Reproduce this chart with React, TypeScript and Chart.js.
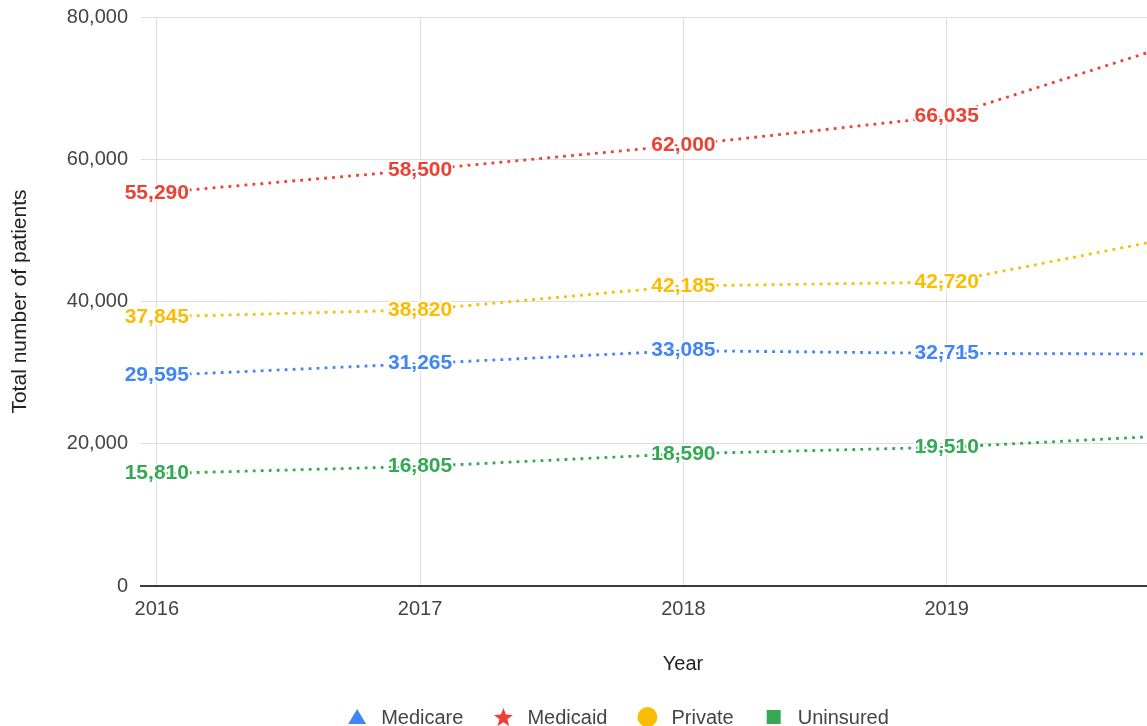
import React, { useEffect, useRef } from 'react';
import { Chart, registerables } from 'chart.js';

Chart.register(...registerables);

// ---- data ----
const years = [2016, 2017, 2018, 2019, 2020];
const seriesNames = ['Medicare', 'Medicaid', 'Private', 'Uninsured'];
const medicare = [29595, 31265, 33085, 32715, 32600];
const medicaid = [55290, 58500, 62000, 66035, 77780];
const privateIns = [37845, 38820, 42185, 42720, 49980];
const uninsured = [15810, 16805, 18590, 19510, 21420];
const yTicks = [0, 20000, 40000, 60000, 80000];

const seriesValues = [medicare, medicaid, privateIns, uninsured];
const seriesColors = ['#4285F4', '#EA4335', '#FBBC04', '#34A853'];
const seriesShapes = ['triangle', 'star', 'circle', 'square'];

const FONT = '"Liberation Sans", Arial, Helvetica, sans-serif';

function drawShape(ctx: CanvasRenderingContext2D, shape: string, cx: number, cy: number, color: string) {
  ctx.save();
  ctx.fillStyle = color;
  ctx.beginPath();
  if (shape === 'triangle') {
    ctx.moveTo(cx, cy - 8);
    ctx.lineTo(cx + 9, cy + 7);
    ctx.lineTo(cx - 9, cy + 7);
    ctx.closePath();
  } else if (shape === 'star') {
    const outer = 10;
    const inner = 4.2;
    for (let i = 0; i < 10; i++) {
      const r = i % 2 === 0 ? outer : inner;
      const a = -Math.PI / 2 + (i * Math.PI) / 5;
      const px = cx + r * Math.cos(a);
      const py = cy + 1 + r * Math.sin(a);
      if (i === 0) ctx.moveTo(px, py);
      else ctx.lineTo(px, py);
    }
    ctx.closePath();
  } else if (shape === 'circle') {
    ctx.arc(cx, cy, 10, 0, Math.PI * 2);
  } else {
    ctx.rect(cx - 7, cy - 7, 14, 14);
  }
  ctx.fill();
  ctx.restore();
}

const pointLabelPlugin = {
  id: 'pointLabels',
  afterDatasetsDraw(chart: any) {
    const ctx: CanvasRenderingContext2D = chart.ctx;
    ctx.save();
    ctx.font = `bold 21px ${FONT}`;
    ctx.textAlign = 'center';
    ctx.textBaseline = 'middle';
    ctx.lineJoin = 'round';
    chart.data.datasets.forEach((ds: any, i: number) => {
      const meta = chart.getDatasetMeta(i);
      meta.data.forEach((pt: any, j: number) => {
        const text = seriesValues[i][j].toLocaleString('en-US');
        ctx.strokeStyle = 'rgba(255,255,255,0.9)';
        ctx.lineWidth = 4;
        ctx.strokeText(text, pt.x, pt.y);
        ctx.fillStyle = ds.borderColor;
        ctx.fillText(text, pt.x, pt.y);
      });
    });
    ctx.restore();
  },
};

const legendPlugin = {
  id: 'customLegend',
  afterDraw(chart: any) {
    const ctx: CanvasRenderingContext2D = chart.ctx;
    ctx.save();
    ctx.font = `20px ${FONT}`;
    ctx.textBaseline = 'middle';
    ctx.textAlign = 'left';
    const symbolW = 20;
    const symbolGap = 14;
    const itemGap = 30;
    const widths = seriesNames.map((n) => ctx.measureText(n).width);
    const total =
      widths.reduce((a, b) => a + b, 0) +
      seriesNames.length * (symbolW + symbolGap) +
      (seriesNames.length - 1) * itemGap;
    let x = chart.width / 2 - total / 2;
    const y = 717;
    seriesNames.forEach((name, i) => {
      drawShape(ctx, seriesShapes[i], x + symbolW / 2, y, seriesColors[i]);
      x += symbolW + symbolGap;
      ctx.fillStyle = '#444';
      ctx.fillText(name, x, y + 1);
      x += widths[i] + itemGap;
    });
    ctx.restore();
  },
};

export default function App() {
  const ref = useRef<HTMLCanvasElement>(null);

  useEffect(() => {
    document.body.style.margin = '0';
    const canvas = ref.current;
    if (!canvas) return;
    const chart = new Chart(canvas, {
      type: 'line',
      data: {
        datasets: seriesNames.map((name, i) => ({
          label: name,
          data: years.map((yr, j) => ({ x: yr, y: seriesValues[i][j] })),
          borderColor: seriesColors[i],
          backgroundColor: seriesColors[i],
          borderWidth: 2.8,
          borderDash: [2.8, 5.2],
          borderCapStyle: 'butt' as const,
          pointRadius: 0,
          pointHoverRadius: 0,
          tension: 0,
          fill: false,
        })),
      },
      options: {
        animation: false,
        responsive: false,
        devicePixelRatio: 1,
        layout: { padding: { top: 17, right: 11, bottom: 40, left: 0 } },
        plugins: {
          legend: { display: false },
          tooltip: { enabled: false },
        },
        scales: {
          x: {
            type: 'linear',
            min: 2015.94,
            max: 2020.057,
            afterFit: (scale: any) => {
              scale.height = 100;
              scale.paddingLeft = 0;
              scale.paddingRight = 0;
            },
            ticks: {
              stepSize: 1,
              includeBounds: false,
              autoSkip: false,
              maxRotation: 0,
              padding: 11,
              color: '#444',
              font: { family: FONT, size: 20 },
              callback: (v: any) => String(v),
            },
            grid: { color: '#dedede', lineWidth: 1, drawTicks: false },
            border: { display: true, color: '#3a3a3a', width: 2 },
            title: {
              display: true,
              text: 'Year',
              color: '#222',
              font: { family: FONT, size: 20 },
              padding: { top: 0, bottom: 10 },
            },
          },
          y: {
            type: 'linear',
            min: yTicks[0],
            max: yTicks[yTicks.length - 1],
            afterFit: (scale: any) => {
              scale.width = 141;
              scale.paddingTop = 0;
              scale.paddingBottom = 0;
            },
            ticks: {
              stepSize: yTicks[1] - yTicks[0],
              padding: 13,
              color: '#444',
              font: { family: FONT, size: 20 },
              callback: (v: any) => Number(v).toLocaleString('en-US'),
            },
            grid: { color: '#dedede', lineWidth: 1, drawTicks: false },
            border: { display: false },
            title: {
              display: true,
              text: 'Total number of patients',
              color: '#222',
              font: { family: FONT, size: 21 },
              padding: { top: 8, bottom: 0 },
            },
          },
        },
      },
      plugins: [pointLabelPlugin, legendPlugin],
    });
    return () => chart.destroy();
  }, []);

  return (
    <div style={{ width: 1147, height: 726, overflow: 'hidden', position: 'relative' }}>
      <canvas ref={ref} width={1236} height={726} style={{ display: 'block', width: 1236, height: 726 }} />
    </div>
  );
}
